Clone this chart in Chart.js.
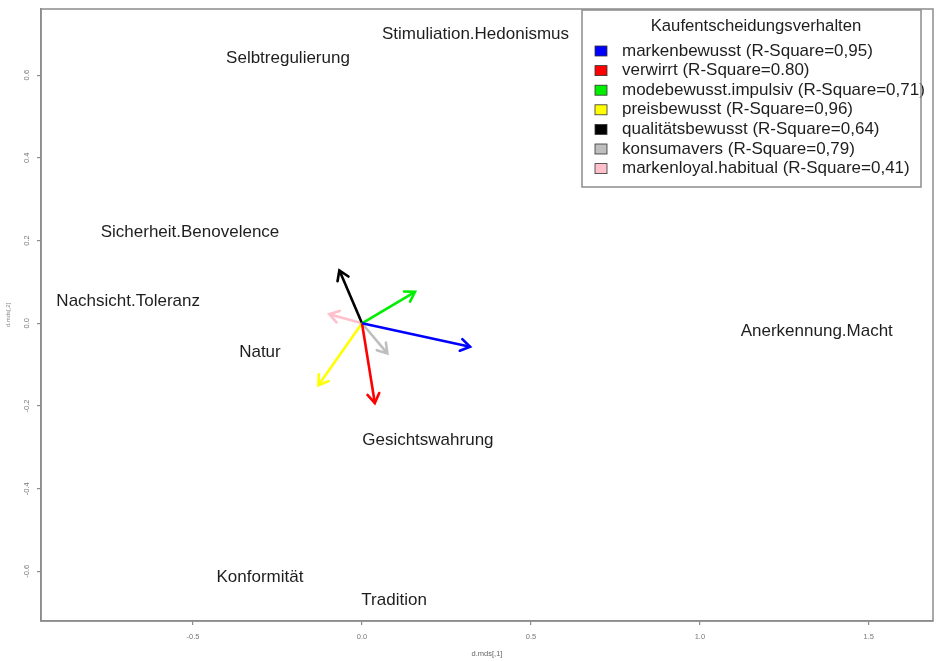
<!DOCTYPE html>
<html>
<head>
<meta charset="utf-8">
<script src="https://cdn.jsdelivr.net/npm/chart.js@4.4.0/dist/chart.umd.min.js"></script>
<style>
  body { margin: 0; background: #fff; }
  #wrap { width: 938px; height: 661px; }
</style>
</head>
<body>
<div id="wrap"><canvas id="mdsChart" width="938" height="661"></canvas></div>
<script>
// MDS-Konfiguration (Werte)
const termNames = ['Stimuliation.Hedonismus', 'Selbtregulierung', 'Sicherheit.Benovelence', 'Nachsicht.Toleranz',
                   'Natur', 'Anerkennung.Macht', 'Gesichtswahrung', 'Konformität', 'Tradition'];
const termX = [0.336, -0.219, -0.509, -0.692, -0.302, 1.346, 0.195, -0.302, 0.095];
const termY = [0.699, 0.641, 0.220, 0.053, -0.070, -0.019, -0.283, -0.614, -0.670];

// Vektoren (envfit)
const arrowNames = ['markenbewusst', 'verwirrt', 'modebewusst.impulsiv', 'preisbewusst',
                    'qualitätsbewusst', 'konsumavers', 'markenloyal.habitual'];
const arrowR2 = ['0,95', '0.80', '0,71', '0,96', '0,64', '0,79', '0,41'];
const arrowX = [0.320, 0.038, 0.157, -0.129, -0.067, 0.075, -0.097];
const arrowY = [-0.057, -0.193, 0.076, -0.150, 0.128, -0.073, 0.022];
const arrowColors = ['#0000ff', '#ff0000', '#00ee00', '#ffff00', '#000000', '#bebebe', '#ffc0cb'];

const xTicks = [-0.5, 0.0, 0.5, 1.0, 1.5];
const yTicks = [-0.6, -0.4, -0.2, 0.0, 0.2, 0.4, 0.6];
const legendTitle = 'Kaufentscheidungsverhalten';

const FONT = '"Liberation Sans", Arial, sans-serif';

var datasets = [];
for (var i = 0; i < arrowNames.length; i++) {
    datasets.push({
        type: 'scatter',
        label: arrowNames[i] + ' (R-Square=' + arrowR2[i] + ')',
        data: [{x: 0, y: 0}, {x: arrowX[i], y: arrowY[i]}],
        showLine: true,
        borderColor: arrowColors[i],
        backgroundColor: arrowColors[i],
        borderWidth: 2.6,
        pointRadius: 0,
        isArrow: true
    });
}
datasets.push({
    type: 'scatter',
    label: 'terms',
    data: termX.map(function(x, i){ return {x: x, y: termY[i]}; }),
    pointRadius: 0,
    isTerm: true
});

// Rahmen um Plotbereich
const boxPlugin = {
    id: 'box',
    afterDraw: function(chart){
        const a = chart.chartArea, ctx = chart.ctx;
        ctx.save();
        ctx.strokeStyle = '#8c8c8c';
        ctx.lineWidth = 1.5;
        ctx.strokeRect(a.left, a.top, a.right - a.left, a.bottom - a.top);
        ctx.restore();
    }
};

// Pfeilspitzen + Beschriftungen
const arrowPlugin = {
    id: 'arrows',
    afterDatasetsDraw: function(chart){
        const ctx = chart.ctx;
        chart.data.datasets.forEach(function(ds, di){
            const meta = chart.getDatasetMeta(di);
            if (ds.isArrow) {
                const p0 = meta.data[0], p1 = meta.data[1];
                const ang = Math.atan2(p1.y - p0.y, p1.x - p0.x);
                const len = 11, spread = Math.PI / 5.5;
                ctx.save();
                ctx.strokeStyle = ds.borderColor;
                ctx.lineWidth = 2.6;
                ctx.lineCap = 'round';
                ctx.beginPath();
                ctx.moveTo(p1.x - len * Math.cos(ang - spread), p1.y - len * Math.sin(ang - spread));
                ctx.lineTo(p1.x, p1.y);
                ctx.lineTo(p1.x - len * Math.cos(ang + spread), p1.y - len * Math.sin(ang + spread));
                ctx.stroke();
                ctx.restore();
            }
            if (ds.isTerm) {
                ctx.save();
                ctx.font = '17px ' + FONT;
                ctx.fillStyle = '#1e1e1e';
                ctx.textAlign = 'center';
                ctx.textBaseline = 'middle';
                meta.data.forEach(function(pt, k){
                    ctx.fillText(termNames[k], pt.x, pt.y);
                });
                ctx.restore();
            }
        });
    }
};

// Legende oben rechts
const legendPlugin = {
    id: 'rlegend',
    afterDraw: function(chart){
        const ctx = chart.ctx, a = chart.chartArea;
        const right = a.right - 12, left = 582, top = 10, bottom = 187;
        ctx.save();
        ctx.fillStyle = '#fff';
        ctx.fillRect(left, top, right - left, bottom - top);
        ctx.fillStyle = '#1e1e1e';
        ctx.font = '16.7px ' + FONT;
        ctx.textAlign = 'center';
        ctx.textBaseline = 'middle';
        ctx.fillText(legendTitle, 756, 26);
        ctx.textAlign = 'left';
        ctx.font = '17px ' + FONT;
        var rows = chart.data.datasets.filter(function(d){ return d.isArrow; });
        rows.forEach(function(ds, i){
            const y = 51 + i * 19.6;
            ctx.fillStyle = ds.borderColor;
            ctx.fillRect(595, y - 5, 12, 10);
            ctx.strokeStyle = '#333';
            ctx.lineWidth = 0.8;
            ctx.strokeRect(595, y - 5, 12, 10);
            ctx.fillStyle = '#1e1e1e';
            ctx.fillText(ds.label, 622, y);
        });
        ctx.strokeStyle = '#8c8c8c';
        ctx.lineWidth = 1.5;
        ctx.strokeRect(left, top, right - left, bottom - top);
        ctx.restore();
    }
};

const config = {
    data: { datasets: datasets },
    options: {
        responsive: false,
        animation: false,
        devicePixelRatio: 1,
        layout: { padding: { top: 9, right: 5, left: 0, bottom: 0 } },
        plugins: { legend: { display: false }, tooltip: { enabled: false } },
        scales: {
            x: {
                type: 'linear',
                min: -0.95,
                max: 1.69,
                afterBuildTicks: function(s){ s.ticks = xTicks.map(function(v){ return {value: v}; }); },
                afterFit: function(s){ s.height = 40; },
                ticks: {
                    callback: function(v){ return v.toFixed(1); },
                    font: { size: 7.5, family: FONT },
                    color: '#777',
                    padding: 7,
                    maxRotation: 0
                },
                grid: { drawOnChartArea: false, drawTicks: true, tickLength: 4, color: '#8c8c8c', lineWidth: 1.2 },
                border: { display: true, color: '#8c8c8c', width: 1.5 },
                title: { display: true, text: 'd.mds[,1]', font: { size: 7.5, family: FONT }, color: '#666', padding: { top: 4, bottom: 3 } }
            },
            y: {
                type: 'linear',
                min: -0.72,
                max: 0.76,
                afterBuildTicks: function(s){ s.ticks = yTicks.map(function(v){ return {value: v}; }); },
                afterFit: function(s){ s.width = 41; },
                ticks: {
                    callback: function(v){ return v.toFixed(1); },
                    font: { size: 7.5, family: FONT },
                    color: '#777',
                    padding: 4,
                    minRotation: 90,
                    maxRotation: 90,
                    crossAlign: 'center'
                },
                grid: { drawOnChartArea: false, drawTicks: true, tickLength: 4, color: '#8c8c8c', lineWidth: 1.2 },
                border: { display: true, color: '#8c8c8c', width: 1.5 },
                title: { display: true, text: 'd.mds[,2]', font: { size: 6, family: FONT }, color: '#888', padding: { top: 5, bottom: 0 } }
            }
        }
    },
    plugins: [boxPlugin, arrowPlugin, legendPlugin]
};

const mdsChart = new Chart(document.getElementById('mdsChart'), config);
</script>
</body>
</html>
